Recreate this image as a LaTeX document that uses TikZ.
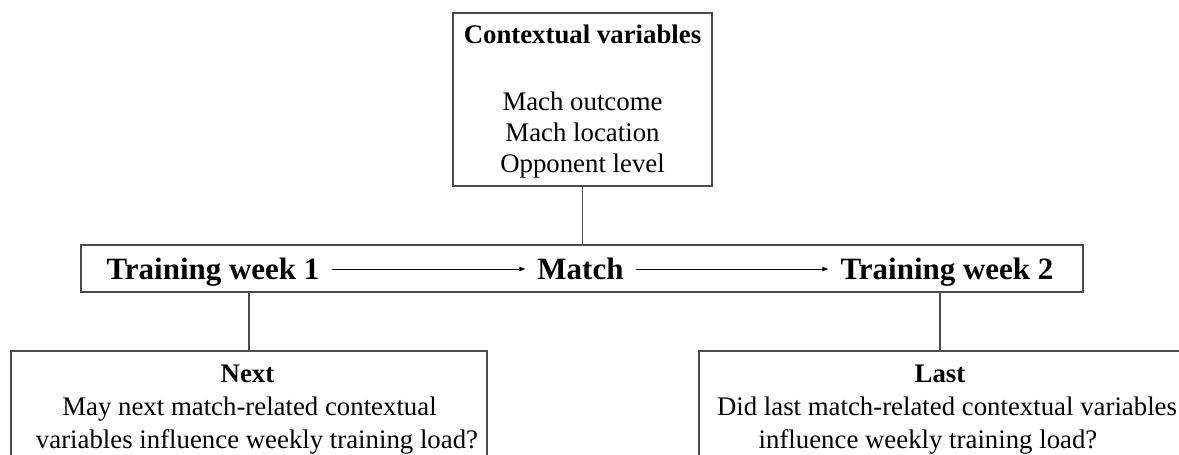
\documentclass[tikz,border=0pt]{standalone}
\usepackage{fontspec}
\setmainfont{Liberation Serif}
\usetikzlibrary{arrows.meta}
\begin{document}
\begin{tikzpicture}[x=1pt,y=-1pt,
  frame/.style={draw=black!70, line width=1.1pt, rectangle, inner sep=0pt},
  link/.style={draw=black!70, line width=1.1pt},
  flow/.style={draw=black, line width=0.8pt, -{Triangle[length=6pt,width=4.5pt]}},
  big/.style={font=\fontsize{31}{31}\selectfont\bfseries, inner xsep=12pt, inner ysep=0pt, text height=21.7pt, text depth=0pt},
  txt/.style={anchor=base, inner sep=0pt, font=\fontsize{26.8}{26.8}\selectfont},
  btxt/.style={txt, font=\fontsize{26.8}{26.8}\selectfont\bfseries},
]
\clip (0,0) rectangle (1179,455);
\fill[white] (0,0) rectangle (1179,455);

% contextual variables box
\node[frame, minimum width=259pt, minimum height=173pt] (ctx) at (582.5,99.5) {};
\node[btxt] (ctxT) at (582.5,43) {Contextual variables};
\node[txt] (ctx1) at (582.5,110) {Mach outcome};
\node[txt] (ctx2) at (582.5,141) {Mach location};
\node[txt] (ctx3) at (582.5,172) {Opponent level};

% timeline bar
\node[frame, minimum width=1002pt, minimum height=47pt] (bar) at (582,268.5) {};
\node[big] (tw1) at (213,269) {Training week 1};
\node[big] (match) at (580.5,269) {Match};
\node[big] (tw2) at (947,269) {Training week 2};
\draw[flow] (tw1) -- (match);
\draw[flow] (match) -- (tw2);

% bottom boxes
\node[frame, minimum width=476pt, minimum height=114pt] (next) at (249,408) {};
\node[btxt] (nextT) at (247.5,382) {Next};
\node[txt] (next1) at (249.5,415) {May next match-related contextual};
\node[txt] (next2) at (257,448) {variables influence weekly training load?};

\node[frame, minimum width=482pt, minimum height=114pt] (last) at (940,408) {};
\node[btxt] (lastT) at (940,382) {Last};
\node[txt] (last1) at (947,415) {Did last match-related contextual variables};
\node[txt] (last2) at (928,448) {influence weekly training load?};

% connectors
\draw[link] (ctx.south) -- (ctx.south |- bar.north);
\draw[link] (next.north |- bar.south) -- (next.north);
\draw[link] (last.north |- bar.south) -- (last.north);
\end{tikzpicture}
\end{document}
